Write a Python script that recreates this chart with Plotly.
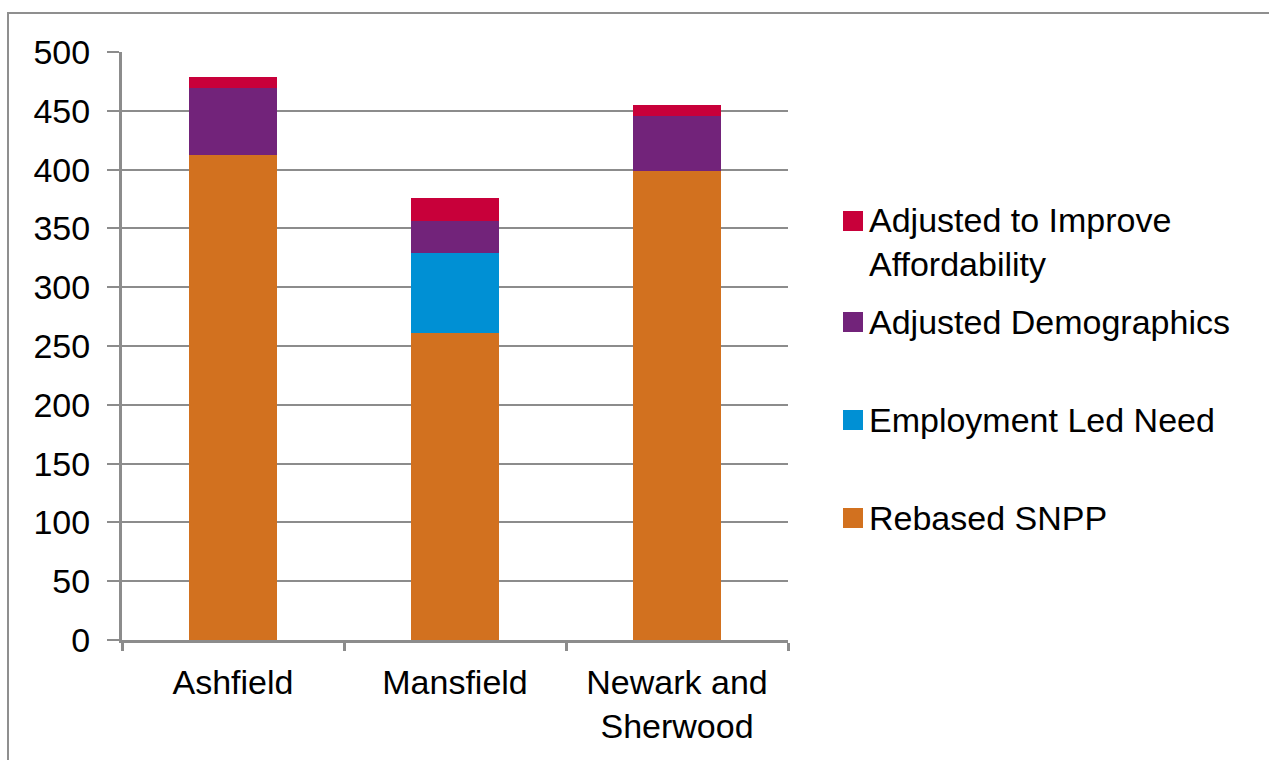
import plotly.graph_objects as go

# Districts and the components of housing need stacked for each one
districts = ["Ashfield", "Mansfield", "Newark and<br>Sherwood"]
rebased_snpp = [412, 261, 399]
employment_led = [0, 68, 0]
adjusted_demographics = [57, 27, 47]
improve_affordability = [10, 20, 9]

series_names = [
    "Rebased SNPP",
    "Employment Led Need",
    "Adjusted Demographics",
    "Adjusted to Improve<br>Affordability",
]
series_values = [rebased_snpp, employment_led, adjusted_demographics, improve_affordability]
series_colors = ["#D2711F", "#0090D4", "#72237A", "#C8003A"]

FONT = "Liberation Sans, Arial, sans-serif"
GRID = "#8C8C8C"
FS = 34

W, H = 1269, 760
L, R, T, B = 122, 788, 52, 640  # plot area in pixels

fig = go.Figure()
for name, vals, col in zip(series_names, series_values, series_colors):
    fig.add_trace(go.Bar(
        x=districts, y=vals, name=name.replace("<br>", " "),
        marker=dict(color=col, line=dict(width=0)),
        showlegend=False,
    ))


def px_x(px):
    return (px - L) / (R - L)


def px_y(py):
    return (B - py) / (B - T)


shapes = []
annotations = []

# outer chart border
shapes.append(dict(type="rect", xref="paper", yref="paper",
                   x0=px_x(8), x1=px_x(1290), y0=px_y(13), y1=px_y(790),
                   line=dict(color="#8F8F8F", width=2), fillcolor="rgba(0,0,0,0)",
                   layer="below"))

# legend: square swatch plus label, listed top to bottom
legend_rows = [
    (series_names[3], series_colors[3], 221, 242),
    (series_names[2], series_colors[2], 322, 322),
    (series_names[1], series_colors[1], 420, 420),
    (series_names[0], series_colors[0], 518, 518),
]
for text, col, sq_y, txt_y in legend_rows:
    shapes.append(dict(type="rect", xref="paper", yref="paper",
                       x0=px_x(843), x1=px_x(863), y0=px_y(sq_y - 10), y1=px_y(sq_y + 10),
                       line=dict(width=0), fillcolor=col))
    annotations.append(dict(xref="paper", yref="paper", x=px_x(867), y=px_y(txt_y),
                            xanchor="left", yanchor="middle", align="left",
                            text=text, showarrow=False,
                            font=dict(family=FONT, size=FS, color="#000000")))

fig.update_layout(
    width=W, height=H,
    margin=dict(l=L, r=W - R, t=T, b=H - B, pad=0),
    paper_bgcolor="white", plot_bgcolor="white",
    barmode="stack", bargap=0.6,
    font=dict(family=FONT, size=FS, color="#000000"),
    shapes=shapes, annotations=annotations,
    xaxis=dict(
        type="category", showgrid=False, showline=True, linecolor=GRID, linewidth=3,
        ticks="outside", tickson="boundaries", ticklen=8, tickwidth=3, tickcolor=GRID,
        ticklabelstandoff=10,
        tickfont=dict(family=FONT, size=FS, color="#000000"),
    ),
    yaxis=dict(
        range=[0, 500], dtick=50, tick0=0, showgrid=True, gridcolor=GRID, gridwidth=2,
        showline=True, linecolor=GRID, linewidth=3, zeroline=False,
        ticks="outside", ticklen=12, tickwidth=2, tickcolor=GRID,
        ticklabelstandoff=10,
        tickfont=dict(family=FONT, size=FS, color="#000000"),
    ),
)

fig.write_html("out.html")
